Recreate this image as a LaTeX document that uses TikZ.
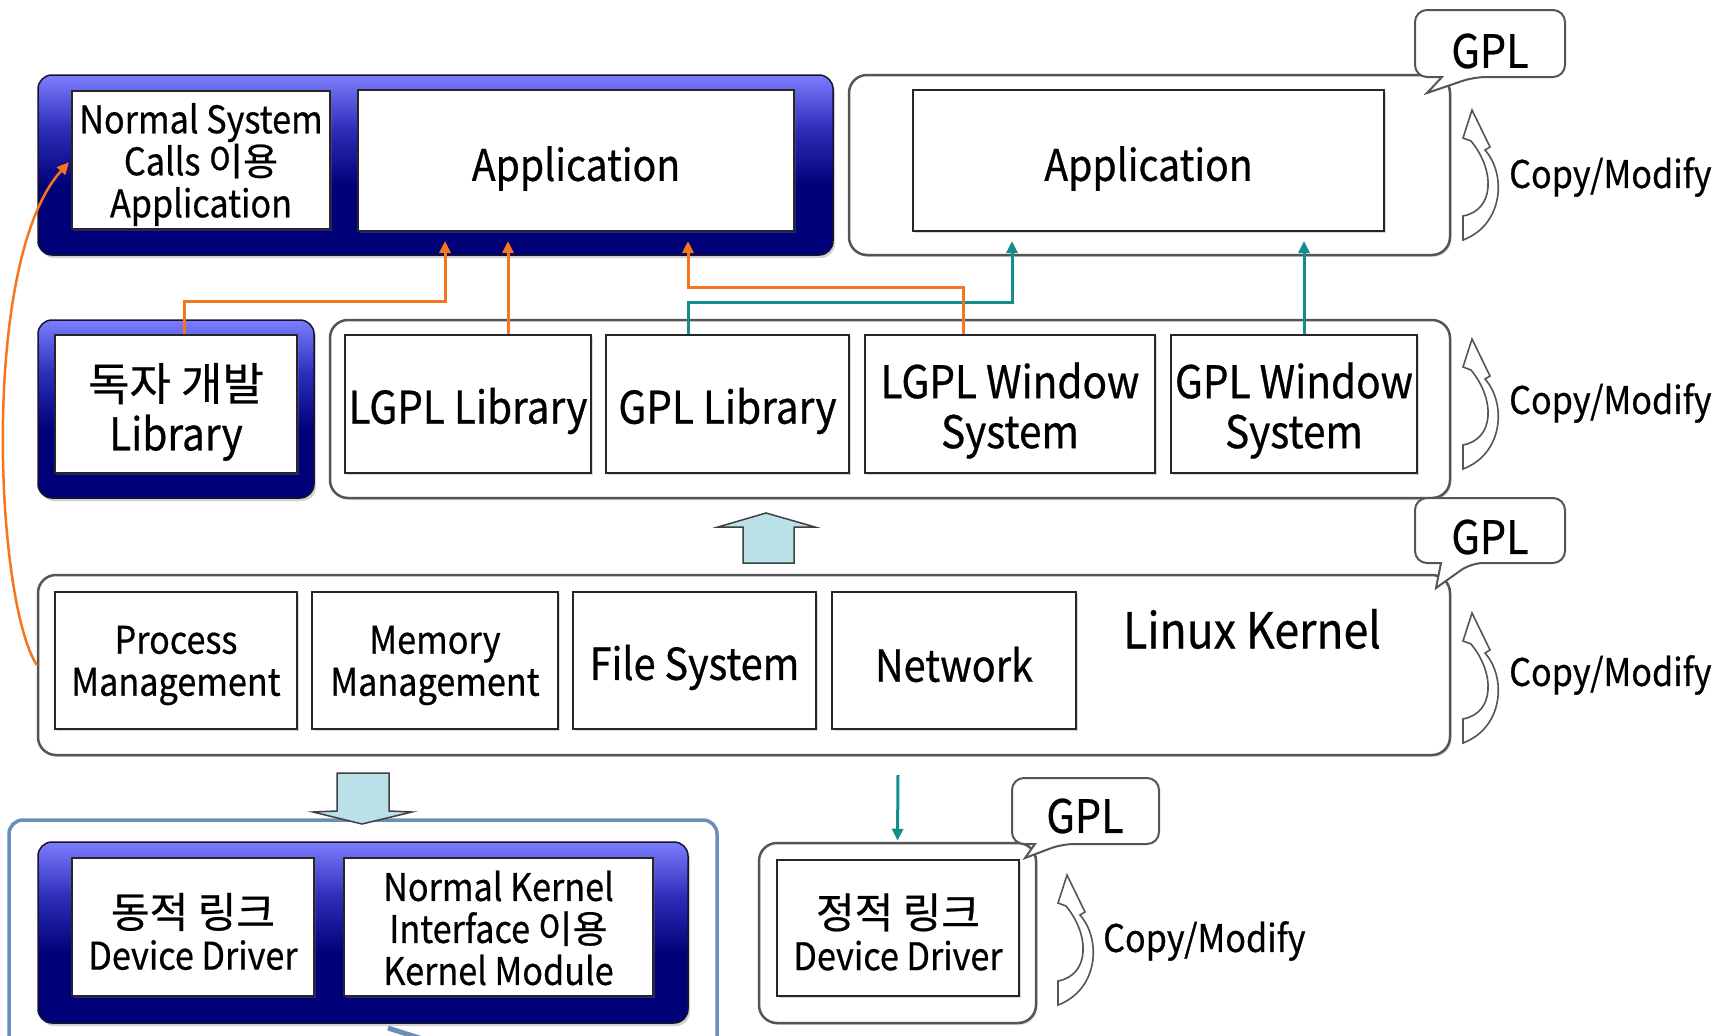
\documentclass[tikz,border=0pt]{standalone}
\usepackage{fontspec}
\setmainfont{Noto Sans CJK KR}[FakeStretch=0.9,FakeBold=0.6]
\newfontfamily\kr{Noto Sans CJK KR}[FakeBold=0.6]
\usetikzlibrary{arrows.meta,shadows}
\definecolor{lightb}{RGB}{125,125,255}
\definecolor{midb}{RGB}{45,45,185}
\definecolor{navyb}{RGB}{0,0,120}
\definecolor{orangec}{RGB}{245,118,28}
\definecolor{tealc}{RGB}{20,140,140}
\definecolor{blockc}{RGB}{186,224,232}
\definecolor{framec}{RGB}{106,142,184}
\definecolor{edgec}{RGB}{85,85,85}
\pgfdeclareverticalshading{bluegrad}{100bp}{color(0bp)=(navyb); color(25bp)=(navyb); color(44bp)=(navyb); color(60bp)=(midb); color(75bp)=(lightb); color(100bp)=(lightb)}
\tikzset{
  bluebox/.style={rounded corners=14pt, shading=bluegrad, draw={rgb,255:red,20;green,20;blue,50}, line width=1.5pt, inner sep=0pt,
    drop shadow={shadow xshift=2pt, shadow yshift=-3pt, opacity=0.35}},
  wbox/.style={rounded corners=18pt, draw=edgec, line width=2.5pt, fill=white, inner sep=0pt,
    drop shadow={shadow xshift=1.5pt, shadow yshift=-2pt, opacity=0.25}},
  framebox/.style={rounded corners=14pt, draw=framec, line width=3.5pt, inner sep=0pt},
  ibox/.style={draw=black!85, line width=2pt, fill=white, inner sep=0pt,
    drop shadow={shadow xshift=1.5pt, shadow yshift=-1.5pt, opacity=0.3}},
  txt/.style={inner sep=0pt, align=center},
  fm/.style={font=\fontsize{38}{42}\selectfont},
  fb/.style={font=\fontsize{45}{50}\selectfont},
  fa/.style={font=\fontsize{43.5}{48}\selectfont},
  fl/.style={font=\fontsize{44}{50}\selectfont},
  fk/.style={font=\fontsize{49.5}{54}\selectfont},
  fg/.style={font=\fontsize{46}{50}\selectfont},
  fc/.style={font=\fontsize{38}{44}\selectfont},
  oarr/.style={draw=orangec, line width=3pt, -{Triangle[length=12pt,width=11pt]}, shorten >=9pt},
  tarr/.style={draw=tealc, line width=3pt, -{Triangle[length=12pt,width=11pt]}, shorten >=9pt},
  block/.style={draw=black!75, line width=1.5pt, fill=blockc, line join=miter},
  callout/.style={draw=edgec, line width=2pt, fill=white},
  cmstyle/.style={draw=edgec, line width=1.6pt, fill=white},
  cmarrow/.pic={
    \draw[cmstyle] (0,130) .. controls (40,115) and (44,65) .. (22,40) -- (27,37) -- (9,0) -- (0,28) -- (8,31)
      .. controls (32,60) and (32,100) .. (0,106) -- cycle;
  }
}
\begin{document}
\begin{tikzpicture}[x=1pt,y=-1pt]
\useasboundingbox (0,0) rectangle (1725,1036);
\fill[white] (0,0) rectangle (1725,1036);

% ---- bottom frame
\node[framebox, minimum width=708pt, minimum height=240pt] (frame) at (363,940) {};

% ---- top row
\node[bluebox, minimum width=795pt, minimum height=180pt] (topblue) at (435.5,165) {};
\node[ibox, minimum width=258pt, minimum height=138pt] (nsc) at (201,160) {};
\node[txt, fm] (nsct) at ([yshift=-4.5pt]nsc.center) {Normal System\\Calls {\kr 이용}\\Application};
\node[ibox, minimum width=436pt, minimum height=141pt] (app1) at (576,160.5) {};
\node[txt, fa] (app1t) at ([yshift=-8pt]app1.center) {Application};
\node[wbox, minimum width=601pt, minimum height=180pt] (topwhite) at (1149.5,165) {};
\node[ibox, minimum width=471pt, minimum height=141pt] (app2) at (1148.5,160.5) {};
\node[txt, fa] (app2t) at ([yshift=-8pt]app2.center) {Application};

% ---- library row
\node[bluebox, minimum width=276pt, minimum height=178pt] (ownblue) at (176,409) {};
\node[ibox, minimum width=242pt, minimum height=138pt] (own) at (176,404) {};
\node[txt, fb] (ownt) at ([yshift=-8pt]own.center) {{\kr 독자 개발}\\Library};
\node[wbox, minimum width=1120pt, minimum height=178pt] (librow) at (890,409) {};
\node[ibox, minimum width=246pt, minimum height=138pt] (lgpl) at (468,404) {};
\node[txt, fb] (lgplt) at ([yshift=-7pt]lgpl.center) {LGPL Library};
\node[ibox, minimum width=243pt, minimum height=138pt] (gpl) at (727.5,404) {};
\node[txt, fb] (gplt) at ([yshift=-7pt]gpl.center) {GPL Library};
\node[ibox, minimum width=290pt, minimum height=138pt] (lgplw) at (1010,404) {};
\node[txt, fb] (lgplwt) at ([yshift=-6.5pt]lgplw.center) {LGPL Window\\System};
\node[ibox, minimum width=246pt, minimum height=138pt] (gplw) at (1294,404) {};
\node[txt, fb] (gplwt) at ([yshift=-6.5pt]gplw.center) {GPL Window\\System};

% ---- kernel row
\node[wbox, minimum width=1412pt, minimum height=180pt] (kern) at (744,665) {};
\node[ibox, minimum width=242pt, minimum height=137pt] (proc) at (176,660.5) {};
\node[txt, fm] (proct) at ([yshift=-5pt]proc.center) {Process\\Management};
\node[ibox, minimum width=246pt, minimum height=137pt] (mem) at (435,660.5) {};
\node[txt, fm] (memt) at ([yshift=-5pt]mem.center) {Memory\\Management};
\node[ibox, minimum width=243pt, minimum height=137pt] (fs) at (694.5,660.5) {};
\node[txt, fl] (fst) at ([yshift=-7pt]fs.center) {File System};
\node[ibox, minimum width=244pt, minimum height=137pt] (net) at (954,660.5) {};
\node[txt, fl] (nett) at ([yshift=-4pt]net.center) {Network};
\node[fk] (lk) at (1252,629) {Linux Kernel};

% ---- bottom row
\node[bluebox, minimum width=650pt, minimum height=181pt] (dynblue) at (363,932.5) {};
\node[ibox, minimum width=242pt, minimum height=138pt] (dyn) at (193,927) {};
\node[txt, fm] (dynt) at ([yshift=-4.5pt]dyn.center) {{\kr\fontsize{42}{42}\selectfont 동적 링크}\\Device Driver};
\node[ibox, minimum width=309pt, minimum height=138pt] (kmod) at (498.5,927) {};
\node[txt, fm] (kmodt) at ([yshift=-1pt]kmod.center) {Normal Kernel\\Interface {\kr 이용}\\Kernel Module};
\node[wbox, minimum width=277pt, minimum height=180pt] (static) at (897.5,933) {};
\node[ibox, minimum width=242pt, minimum height=136pt] (sdd) at (898,928) {};
\node[txt, fm] (sddt) at ([yshift=-4pt]sdd.center) {{\kr\fontsize{42}{42}\selectfont 정적 링크}\\Device Driver};

% ---- block arrows
\draw[block] (743,563) -- (743,527) -- (718,527) -- (766,513) -- (815,527) -- (794,527) -- (794,563) -- cycle;
\draw[block] (337,773) -- (389,773) -- (389,811) -- (412,812) -- (362,824) -- (313,812) -- (337,811) -- cycle;

% ---- connectors
\draw[tarr] ([xshift=-39.5pt]gpl.north) -- ++(0,-32) -| ([xshift=-136.5pt]app2.south);
\draw[tarr] ([xshift=10pt]gplw.north) -- ([xshift=155.5pt]app2.south);
\draw[oarr] ([xshift=8pt]own.north) -- ++(0,-33) -| ([xshift=-131pt]app1.south);
\draw[oarr] ([xshift=40pt]lgpl.north) -- ([xshift=-68pt]app1.south);
\draw[oarr] ([xshift=-47pt]lgplw.north) -- ++(0,-47) -| ([xshift=112pt]app1.south);
\draw[oarr, line width=2.5pt, shorten >=3pt] (kern.west) .. controls (-5,600) and (-20,260) .. (nsc.west);
\coordinate (tst) at (898,775);
\draw[tarr, shorten >=1pt] (tst) -- (static.north);

% ---- callouts
\draw[callout] (1490,10) [rounded corners=12pt] -- (1565,10) -- (1565,77) -- (1474,77) [sharp corners] -- (1427,93) -- (1442,77) [rounded corners=12pt] -- (1415,77) -- (1415,10) -- cycle;
\node[fg] (gpl1) at (1490,51) {GPL};
\draw[callout] (1490,498) [rounded corners=12pt] -- (1565,498) -- (1565,563) -- (1471,563) [sharp corners] -- (1436,588) -- (1441,563) [rounded corners=12pt] -- (1415,563) -- (1415,498) -- cycle;
\node[fg] (gpl2) at (1490,537) {GPL};
\draw[callout] (1085,778) [rounded corners=12pt] -- (1159,778) -- (1159,844) -- (1062,844) [sharp corners] -- (1025,858) -- (1035,844) [rounded corners=12pt] -- (1012,844) -- (1012,778) -- cycle;
\node[fg] (gpl3) at (1085,816) {GPL};

% ---- copy/modify
\pic at (1463,110) {cmarrow};
\node[fc, anchor=west, inner sep=0pt] (cm1) at (1509,177) {Copy/Modify};
\pic at (1463,339) {cmarrow};
\node[fc, anchor=west, inner sep=0pt] (cm2) at (1509,403) {Copy/Modify};
\pic at (1463,613) {cmarrow};
\node[fc, anchor=west, inner sep=0pt] (cm3) at (1509,675) {Copy/Modify};
\pic at (1058,875) {cmarrow};
\node[fc, anchor=west, inner sep=0pt] (cm4) at (1103,941) {Copy/Modify};

% ---- cut-off fragment at bottom
\coordinate (fragA) at (388,1028);
\coordinate (fragB) at (432,1042);
\draw[framec, line width=5pt] (fragA) -- (fragB);
\end{tikzpicture}
\end{document}
